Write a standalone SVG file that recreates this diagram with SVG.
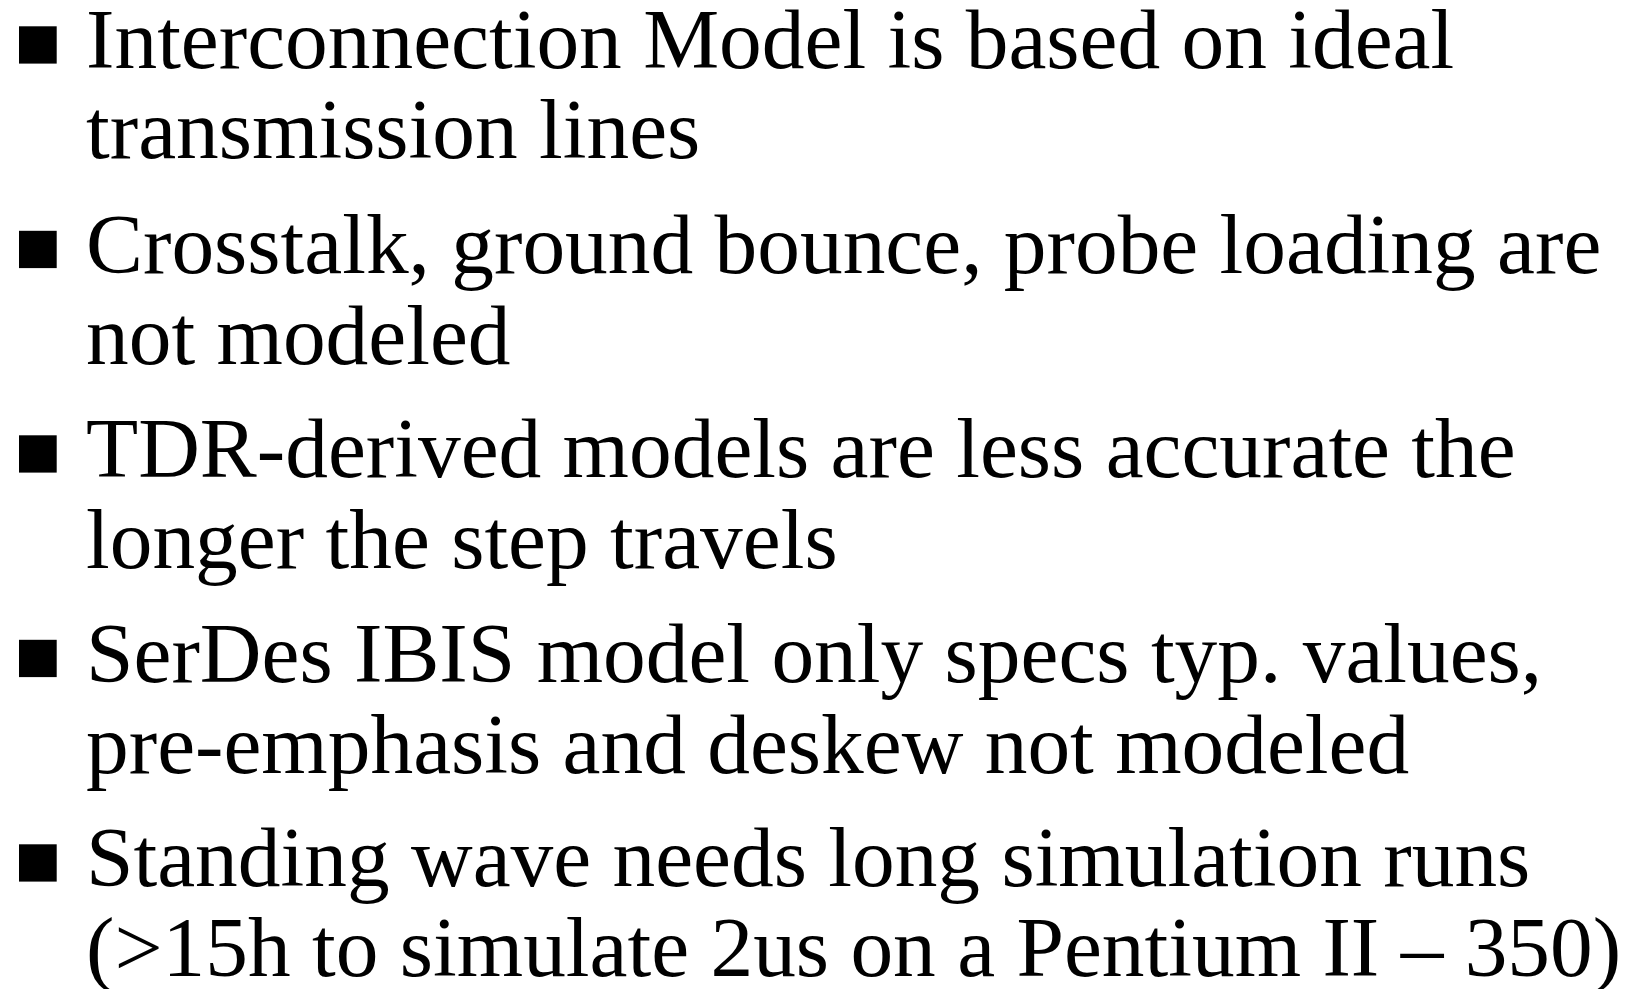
<svg xmlns="http://www.w3.org/2000/svg" width="1630" height="989" viewBox="0 0 1630 989">
<style>
.t{font-family:"Liberation Serif","Times New Roman",serif;font-size:85.4px;fill:#000}
.b{fill:#000}
</style>
<rect width="1630" height="989" fill="#fff"/>
<g id="bullet1">
<rect class="b" x="19" y="26.3" width="37.7" height="37.3"/>
<text class="t" x="86" y="68">Interconnection Model is based on ideal</text>
<text class="t" x="86" y="158">transmission lines</text>
</g>
<g id="bullet2">
<rect class="b" x="19" y="230.8" width="37.7" height="37.3"/>
<text class="t" x="86" y="272.5">Crosstalk, ground bounce, probe loading are</text>
<text class="t" x="86" y="363.5">not modeled</text>
</g>
<g id="bullet3">
<rect class="b" x="19" y="435.3" width="37.7" height="37.3"/>
<text class="t" x="86" y="477">TDR-derived models are less accurate the</text>
<text class="t" x="86" y="568">longer the step travels</text>
</g>
<g id="bullet4">
<rect class="b" x="19" y="639.8" width="37.7" height="37.3"/>
<text class="t" x="86" y="681.5">SerDes IBIS model only specs typ. values,</text>
<text class="t" x="86" y="772.5">pre-emphasis and deskew not modeled</text>
</g>
<g id="bullet5">
<rect class="b" x="19" y="844.3" width="37.7" height="37.3"/>
<text class="t" x="86" y="886">Standing wave needs long simulation runs</text>
<text class="t" x="86" y="976">(&gt;15h to simulate 2us on a Pentium II – 350)</text>
</g>
</svg>
